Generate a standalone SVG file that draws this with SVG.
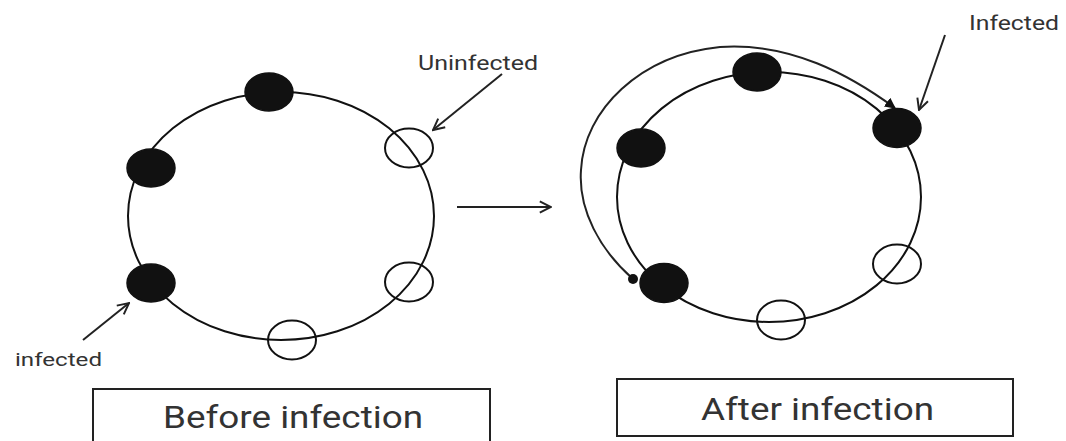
<svg xmlns="http://www.w3.org/2000/svg" width="1066" height="441" viewBox="0 0 1066 441">
<style>
.ring{fill:none;stroke:#111;stroke-width:2}
.inf{fill:#111;stroke:#111;stroke-width:1.5}
.un{fill:none;stroke:#111;stroke-width:2}
.ln{fill:none;stroke:#222;stroke-width:2}
.box{fill:#fff;stroke:#222;stroke-width:2}
.lbl{font-family:Roboto,"Liberation Sans",sans-serif;fill:#333}
</style>
<defs>
<marker id="open" viewBox="0 0 10 10" refX="9" refY="5" markerWidth="14" markerHeight="14" markerUnits="userSpaceOnUse" orient="auto">
<path d="M1,1 L9,5 L1,9" fill="none" stroke="#222" stroke-width="1.4"/>
</marker>
<marker id="solid" viewBox="0 0 10 10" refX="9" refY="5" markerWidth="11" markerHeight="11" markerUnits="userSpaceOnUse" orient="auto">
<path d="M0,0 L10,5 L0,10 Z" fill="#111"/>
</marker>
</defs>
<rect width="1066" height="441" fill="#fff"/>

<g id="before-ring">
<ellipse class="ring" cx="281" cy="216" rx="153" ry="124"/>
</g>
<g id="after-ring">
<ellipse class="ring" cx="769" cy="197" rx="152" ry="125"/>
</g>

<g id="connectors">
<line class="ln" x1="457" y1="207" x2="551" y2="207" marker-end="url(#open)"/>
<line class="ln" x1="502" y1="74" x2="433" y2="130" marker-end="url(#open)"/>
<line class="ln" x1="83" y1="340" x2="129" y2="303" marker-end="url(#open)"/>
<line class="ln" x1="945" y1="35" x2="919" y2="110" marker-end="url(#open)"/>
<path class="ln" d="M633,279 C600,250 578,210 581,170 C584,110 640,55 720,47 C790,42 850,75 895,108" marker-end="url(#solid)"/>
</g>

<g id="before-cell-1"><ellipse class="inf" cx="269" cy="92" rx="24" ry="19"/></g>
<g id="before-cell-2"><ellipse class="inf" cx="151" cy="168" rx="24" ry="19"/></g>
<g id="before-cell-3"><ellipse class="inf" cx="151" cy="283" rx="24" ry="19"/></g>
<g id="before-cell-4"><ellipse class="un" cx="409" cy="148" rx="24" ry="19.5"/></g>
<g id="before-cell-5"><ellipse class="un" cx="409" cy="282" rx="24" ry="19.5"/></g>
<g id="before-cell-6"><ellipse class="un" cx="292" cy="340" rx="24" ry="19.5"/></g>

<g id="after-cell-1"><ellipse class="inf" cx="757" cy="72" rx="24" ry="19"/></g>
<g id="after-cell-2"><ellipse class="inf" cx="641" cy="148" rx="24" ry="19"/></g>
<g id="after-cell-3"><ellipse class="inf" cx="897" cy="128" rx="24" ry="19.5"/></g>
<g id="after-cell-4"><ellipse class="inf" cx="664" cy="283" rx="24" ry="19.5"/><circle cx="633" cy="279" r="5" fill="#111"/></g>
<g id="after-cell-5"><ellipse class="un" cx="897" cy="264" rx="24" ry="19.5"/></g>
<g id="after-cell-6"><ellipse class="un" cx="781" cy="320" rx="24" ry="19.5"/></g>

<g id="label-uninfected"><text class="lbl" x="418" y="70" font-size="20" textLength="120" lengthAdjust="spacingAndGlyphs">Uninfected</text></g>
<g id="label-infected-left"><text class="lbl" x="15" y="366" font-size="19" textLength="87" lengthAdjust="spacingAndGlyphs">infected</text></g>
<g id="label-infected-right"><text class="lbl" x="969" y="30" font-size="20" textLength="90" lengthAdjust="spacingAndGlyphs">Infected</text></g>

<g id="box-before">
<rect class="box" x="93" y="389" width="397" height="60"/>
<text class="lbl" x="163" y="428" font-size="32" textLength="260" lengthAdjust="spacingAndGlyphs">Before infection</text>
</g>
<g id="box-after">
<rect class="box" x="617" y="379" width="396" height="57"/>
<text class="lbl" x="701" y="420" font-size="32" textLength="233" lengthAdjust="spacingAndGlyphs">After infection</text>
</g>
</svg>
